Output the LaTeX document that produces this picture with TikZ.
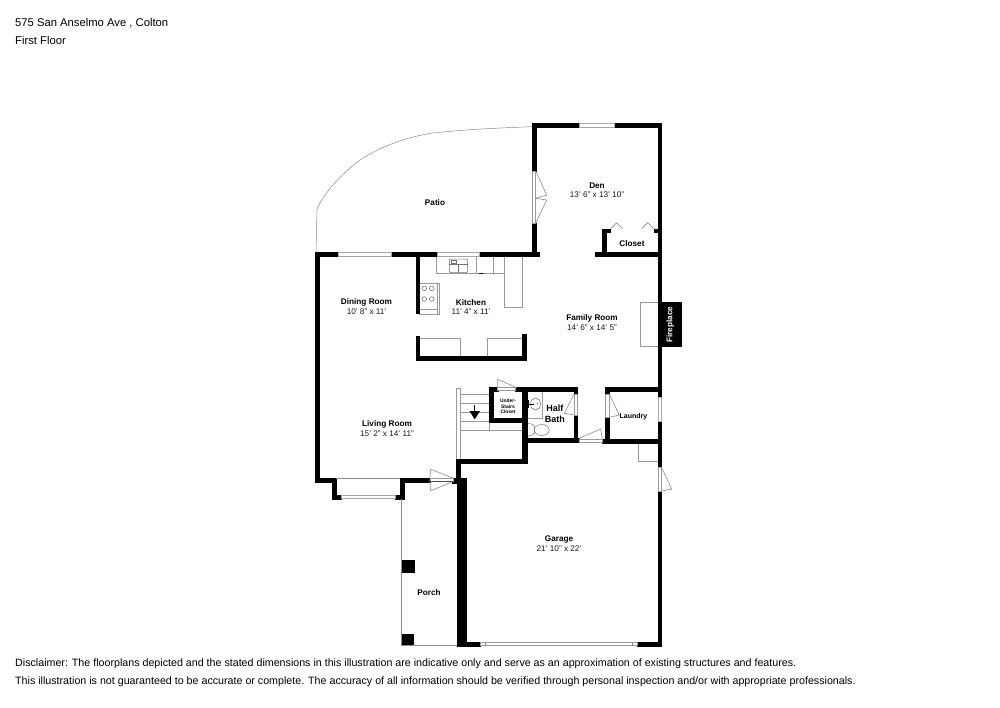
\documentclass[tikz,border=0pt]{standalone}
\usepackage{fontspec}
\setmainfont{Liberation Sans}
\tikzset{
  wall/.style={fill=black,draw=black,line width=0.3pt},
  thin gray/.style={draw=black!45,line width=0.6pt},
  fixt/.style={draw=black!40,line width=0.7pt},
  win/.style={draw=black!35,line width=0.6pt,fill=white},
  room/.style={font=\fontsize{8.2}{10}\selectfont\bfseries,inner sep=0pt,yshift=-0.8pt},
  dim/.style={font=\fontsize{8.2}{10}\selectfont,inner sep=0pt,text=black!90,yshift=-0.8pt},
  info/.style={font=\fontsize{11.25}{13}\selectfont,anchor=west,inner sep=0pt},
  disc/.style={font=\fontsize{10.68}{13}\selectfont,anchor=west,inner sep=0pt},
}
\newcommand{\wl}[4]{\fill[wall] (#1,#2) rectangle (#3,#4);}
\begin{document}
\begin{tikzpicture}[x=1pt,y=-1pt]
\useasboundingbox[fill=white] (0,0) rectangle (1000,707);
% Patio
\draw[thin gray,line width=0.5pt] (531.7,126.7) .. controls (500,128) and (470,129) .. (433,133) .. controls (400,138) and (375,150) .. (360,160) .. controls (340,175) and (325,192) .. (317,209) -- (316,253);
% fixtures kitchen
\draw[fixt] (436.7,256) -- (436.7,273.5) -- (504.7,273.5);
\draw[fixt] (476.5,256) -- (476.5,273.5);
\draw[fixt] (493.5,256) -- (493.5,273.5);
\draw[fixt] (504.7,256) -- (504.7,307.3) -- (522.3,307.3) -- (522.3,256);
\draw[fixt,rounded corners=1pt,draw=black!55,line width=0.5pt] (449.3,259) rectangle (467.7,272.5);
\draw[fixt,draw=black!55,line width=0.5pt] (458.3,264) -- (458.3,272.5) (449.3,264) -- (467.7,264) (451,260) rectangle (456,263);
\fill[black] (479,272.6) rectangle (482.7,274.2);
\draw[fixt] (419.3,283.3) -- (439.3,283.3) -- (439.3,314) -- (419.3,314);
\draw[fixt,line width=0.4pt] (437.3,283.3) -- (437.3,314) (419.3,309.5) -- (437.3,309.5);
\foreach \cx/\cy in {424.3/288.3,431.7/288.3,424.3/299,431.7/299}
  \draw[black!60,line width=0.5pt] (\cx,\cy) circle (2.3);
\draw[fixt] (419.3,338.3) -- (460,338.3) -- (460,356);
\draw[fixt] (487.7,356) -- (487.7,338.3) -- (522.3,338.3);
% hearth + garage step
\draw[fixt] (657.7,302.3) -- (640.7,302.3) -- (640.7,346.3) -- (657.7,346.3);
\draw[fixt] (638.3,442.7) -- (638.3,461) -- (657.7,461);
% stairs
\draw[fixt,fill=white] (456,388.3) rectangle (460,460);
\foreach \ty in {394.3,403.3,412.3,421.3,430} \draw[fixt] (460,\ty) -- (489.3,\ty);
\draw[fixt] (489.3,421.3) -- (489.3,430) -- (522.3,430);
\draw[black,line width=1.4pt] (474.7,405) -- (474.7,413);
\fill[black] (469.4,411) -- (480,411) -- (474.7,419.3) -- cycle;
% bath fixtures
\draw[fixt] (526.7,418.3) -- (542.7,418.3) -- (542.7,391);
\draw[draw=black!55,line width=0.5pt] (535.5,404) ellipse (5 and 6);
\fill[black] (528.2,400) rectangle (529.2,408);
\fill[black] (528.2,403.5) rectangle (534,404.2);
\fill[black] (537.5,403.5) circle (0.5);
\draw[draw=black!55,line width=0.5pt,rounded corners=1.5pt] (526.7,422.7) -- (534.3,425) -- (534.3,434.3) -- (526.7,436.7);
\draw[draw=black!55,line width=0.5pt] (541.7,430) ellipse (7.5 and 5.5);
% walls
\wl{314.7}{252.5}{338}{256}
\wl{391}{252.5}{437}{256}
\wl{479}{252.5}{538.7}{256}
\wl{314.7}{252.5}{318.7}{481.7}
\wl{314.7}{478.3}{335.7}{481.7}
\wl{331.7}{478.3}{335.7}{499}
\wl{331.7}{495}{341}{499}
\wl{395}{495}{404}{499}
\wl{400}{478.3}{404}{499}
\wl{400}{478.3}{430}{481.7}
\wl{415.7}{252.5}{419.3}{313.3}
\wl{415.7}{335.7}{419.3}{360}
\wl{415.7}{356}{526.3}{360}
\wl{522.3}{334.3}{526.3}{360}
% den
\wl{531.7}{123.3}{535.7}{171}
\wl{531.7}{223}{535.7}{256}
\wl{531.7}{123.3}{579}{127.3}
\wl{614}{123.3}{661.5}{127.3}
\wl{657.7}{123.3}{661.5}{397.3}
\wl{595}{252.5}{661.5}{256}
\wl{602}{228.7}{606}{256}
\wl{602}{228.7}{610.5}{232}
\wl{654.3}{228.7}{658}{232}
% closet + bath
\wl{489.3}{386.7}{497.7}{391}
\wl{515.5}{386.7}{577.3}{391}
\wl{489.3}{386.7}{492.7}{422}
\wl{489.3}{418.3}{526.7}{422}
\wl{522.3}{386.7}{526.7}{463.3}
\wl{574}{386.7}{577.3}{394}
\wl{574}{415}{577.3}{442.3}
\wl{522.3}{438.6}{579}{442.5}
\wl{456}{459.3}{526.7}{463.3}
\wl{456}{459.3}{460}{482}
% laundry
\wl{605.3}{387}{661.5}{391}
\wl{605.3}{387}{609.3}{394}
\wl{605.3}{417.3}{609.3}{442.7}
\wl{602.3}{439}{661.5}{442.7}
\wl{657.7}{421}{661.5}{467.7}
\wl{657.7}{491}{661.5}{646}
% garage
\wl{452.5}{478.3}{466.3}{482.7}
\wl{456.7}{482.7}{466.3}{646}
\wl{456.7}{642.3}{480}{646}
\wl{637}{642.3}{661.5}{646}
% pillars
\wl{401.7}{560}{413.7}{572}
\wl{400.7}{633.7}{412.7}{645.6}
% fireplace
\wl{661.3}{302}{680.7}{346.3}
% windows
\draw[win] (338,252.7) rectangle (391,255.8);
\draw[win] (437,252.7) rectangle (479,255.8);
\draw[win] (579,123.6) rectangle (614,127);
\draw[win] (341,495.4) rectangle (395,498.6);
\draw[win] (657.9,397.3) rectangle (661.3,421);
\draw[thin gray] (335.7,478.4) -- (400,478.4);
% doors
\draw[fixt,fill=white] (532,171) rectangle (535.5,223);
\draw[thin gray] (535.7,171) -- (546.7,195) -- (535.7,198.3) -- (546.7,200) -- (535.7,223);
\draw[thin gray] (610.7,228.7) -- (616.7,222.7) -- (622.7,228.7);
\draw[thin gray] (641.7,228.7) -- (647.7,222.7) -- (654.3,229);
\draw[thin gray] (497.7,388) -- (497.7,379.3) -- (516.7,387.7);
\draw[fixt,fill=white] (497.7,387) rectangle (515.5,390.8);
\draw[fixt,fill=white] (574.2,394) rectangle (577.2,415);
\draw[thin gray] (574,394) -- (564.3,413.3) -- (574,415);
\draw[fixt,fill=white] (605.5,394) rectangle (609,417.3);
\draw[thin gray] (609.3,394) -- (619.3,415) -- (609.3,417.3);
\draw[fixt,fill=white] (579,439.2) rectangle (602.3,442.4);
\draw[thin gray] (579,438.3) -- (600.7,429) -- (602.3,439);
\draw[fixt,fill=white] (658,467.7) rectangle (661.3,491);
\draw[thin gray] (661.7,467.7) -- (671.7,489) -- (661.7,491);
\draw[fixt,fill=white] (430,478.5) rectangle (453,481.5);
\draw[thin gray] (453,478.3) -- (431,469.3) .. controls (429.5,475) and (429.5,485) .. (431,490.7) -- (453,481.5);
\draw[black!70,line width=0.5pt] (430,481) -- (453,481);
% porch + garage door
\draw[thin gray] (401.3,499) -- (401.3,645.4) -- (456.7,645.4);
\draw[fixt,fill=white] (480,642.5) rectangle (637,645.7);
\draw[thin gray] (485.3,642.5) -- (485.3,645.7) (632.3,642.5) -- (632.3,645.7);
% labels
\node[info] (t1) at (15,23) {575 San Anselmo Ave , Colton};
\node[info] (t2) at (15,40.3) {First Floor};
\node[disc] (d1) at (15,664) {Disclaimer: The floorplans depicted and the stated dimensions in this illustration are indicative only and serve as an approximation of existing structures and features.};
\node[disc] (d2) at (15,681.5) {This illustration is not guaranteed to be accurate or complete. The accuracy of all information should be verified through personal inspection and/or with appropriate professionals.};
\node[room] (patio) at (435,202) {Patio};
\node[room] (den) at (597,185) {Den};
\node[dim] (dend) at (597,194) {13' 6" x 13' 10"};
\node[room] (closet) at (632,243) {Closet};
\node[room] (din) at (366.5,302) {Dining Room};
\node[dim] (dind) at (366.5,311) {10' 8" x 11'};
\node[room] (kit) at (471,302) {Kitchen};
\node[dim] (kitd) at (471,311) {11' 4" x 11'};
\node[room] (fam) at (592,318) {Family Room};
\node[dim] (famd) at (592,327) {14' 6" x 14' 5"};
\node[room] (liv) at (387,424) {Living Room};
\node[dim] (livd) at (387,433) {15' 2" x 14' 11"};
\node[room,font=\fontsize{4.9}{5.5}\selectfont\bfseries,align=center] (us) at (508,405.5) {Under-\\Stairs\\Closet};
\node[room,font=\fontsize{9}{10.2}\selectfont\bfseries,align=center] (hb) at (554.8,413) {Half\\Bath};
\node[room,font=\fontsize{7}{9}\selectfont\bfseries] (lau) at (633.5,416) {Laundry};
\node[room] (gar) at (559,539) {Garage};
\node[dim] (gard) at (559,548) {21' 10" x 22'};
\node[room] (por) at (429,591.5) {Porch};
\node[room,text=white,rotate=90,xshift=0.8pt,yshift=0.8pt] (fp) at (671,324.5) {Fireplace};
\end{tikzpicture}
\end{document}
